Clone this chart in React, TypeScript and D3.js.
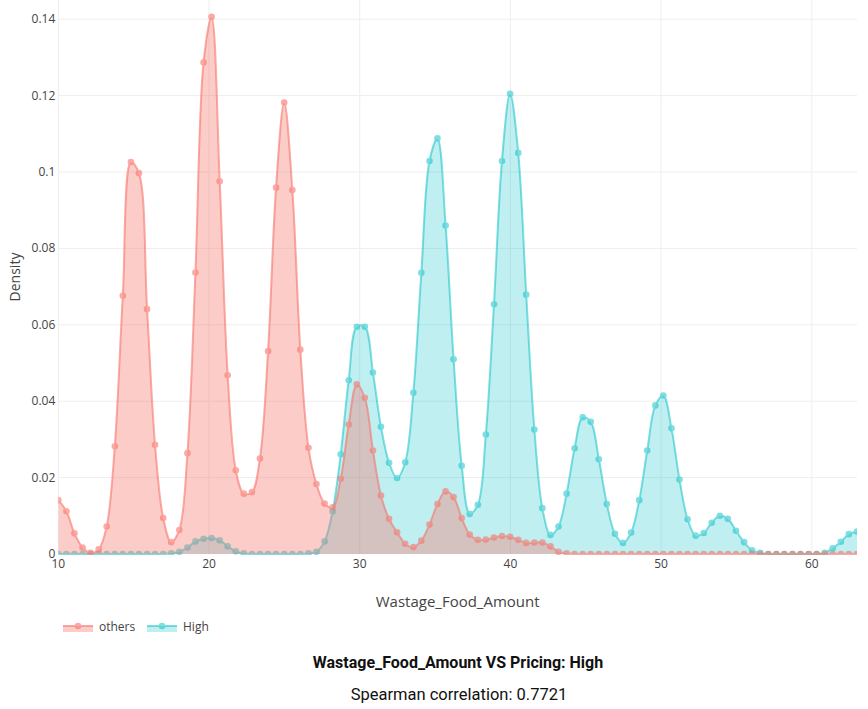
import React from "react";
import * as d3 from "d3";

// evaluation grid of the density estimate (x values of every point)
const gridX = [
  10.0, 10.54, 11.07, 11.61, 12.14, 12.68, 13.21, 13.75, 14.28, 14.82,
  15.35, 15.89, 16.42, 16.96, 17.49, 18.03, 18.57, 19.1, 19.64, 20.17,
  20.71, 21.24, 21.78, 22.31, 22.85, 23.38, 23.92, 24.45, 24.99, 25.53,
  26.06, 26.6, 27.13, 27.67, 28.2, 28.74, 29.27, 29.81, 30.34, 30.88,
  31.41, 31.95, 32.48, 33.02, 33.56, 34.09, 34.63, 35.16, 35.7, 36.23,
  36.77, 37.3, 37.84, 38.37, 38.91, 39.44, 39.98, 40.52, 41.05, 41.59,
  42.12, 42.66, 43.19, 43.73, 44.26, 44.8, 45.33, 45.87, 46.4, 46.94,
  47.47, 48.01, 48.55, 49.08, 49.62, 50.15, 50.69, 51.22, 51.76, 52.29,
  52.83, 53.36, 53.9, 54.43, 54.97, 55.51, 56.04, 56.58, 57.11, 57.65,
  58.18, 58.72, 59.25, 59.79, 60.32, 60.86, 61.39, 61.93, 62.46, 63.0,
];

const othersDensity = [
  0.0141, 0.0112, 0.0054, 0.0017, 0.0003, 0.0012, 0.0072, 0.0282, 0.0676, 0.1026,
  0.0997, 0.0641, 0.0286, 0.0094, 0.0031, 0.0063, 0.0264, 0.0737, 0.1287, 0.1406,
  0.0976, 0.0468, 0.0219, 0.0158, 0.0162, 0.025, 0.0531, 0.0959, 0.1182, 0.0953,
  0.0535, 0.0278, 0.0183, 0.0132, 0.0122, 0.0197, 0.0339, 0.0444, 0.0409, 0.0271,
  0.0153, 0.0092, 0.0057, 0.0027, 0.0018, 0.0035, 0.0077, 0.0131, 0.0164, 0.0149,
  0.0094, 0.0051, 0.0037, 0.0038, 0.0043, 0.0047, 0.0045, 0.0037, 0.0029, 0.003,
  0.003, 0.002, 0.0006, 0.0002, 0, 0, 0, 0, 0, 0,
  0, 0, 0, 0, 0, 0, 0, 0, 0, 0,
  0, 0, 0, 0, 0, 0, 0, 0, 0, 0,
  0, 0, 0, 0, 0, 0, 0, 0, 0, 0,
];

const highDensity = [
  0, 0, 0, 0, 0, 0, 0, 0, 0, 0,
  0, 0, 0, 0, 0.0002, 0.0006, 0.0017, 0.0033, 0.004, 0.0042,
  0.0036, 0.002, 0.0007, 0.0002, 0, 0, 0, 0, 0, 0,
  0, 0.0002, 0.0006, 0.0033, 0.0111, 0.0261, 0.0455, 0.0595, 0.0595, 0.0475,
  0.0333, 0.0239, 0.0199, 0.024, 0.0422, 0.0736, 0.1029, 0.1088, 0.086, 0.051,
  0.0231, 0.0105, 0.0129, 0.0313, 0.0654, 0.1029, 0.1205, 0.105, 0.0679, 0.0326,
  0.012, 0.005, 0.0072, 0.0158, 0.0277, 0.0358, 0.0346, 0.0248, 0.0131, 0.0053,
  0.0029, 0.0056, 0.0141, 0.0271, 0.0389, 0.0415, 0.0329, 0.0195, 0.0091, 0.0048,
  0.0055, 0.0082, 0.01, 0.0092, 0.0061, 0.0031, 0.001, 0.0003, 0, 0,
  0, 0, 0, 0, 0, 0.0003, 0.0015, 0.0032, 0.0052, 0.0059,
];

const xTicks = [10, 20, 30, 40, 50, 60];
const yTicks = [0, 0.02, 0.04, 0.06, 0.08, 0.1, 0.12, 0.14];
const seriesNames = ["others", "High"];

const RED = "248,118,109";
const TEAL = "0,191,196";

const DensityChart: React.FC = () => {
  const svgRef = React.useRef<SVGSVGElement | null>(null);

  React.useEffect(() => {
    if (!svgRef.current) return;
    const svg = d3.select(svgRef.current);
    svg.selectAll("*").remove();

    const width = 868;
    const height = 709;
    const margin = { top: 0, left: 58.3, right: 11, bottom: 155 };
    const innerW = width - margin.left - margin.right;
    const innerH = height - margin.top - margin.bottom;

    const x = d3.scaleLinear().domain([10, 63]).range([0, innerW]);
    const y = d3.scaleLinear().domain([0, 0.14503]).range([innerH, 0]);

    svg.attr("width", width).attr("height", height);

    svg
      .append("defs")
      .append("clipPath")
      .attr("id", "plot-clip")
      .append("rect")
      .attr("width", innerW)
      .attr("height", innerH + 1);

    const g = svg
      .append("g")
      .attr("transform", `translate(${margin.left},${margin.top})`);

    // grid
    g.append("g")
      .selectAll("line")
      .data(xTicks)
      .join("line")
      .attr("x1", (d) => x(d))
      .attr("x2", (d) => x(d))
      .attr("y1", 0)
      .attr("y2", innerH)
      .attr("stroke", "#eee")
      .attr("stroke-width", 1);
    g.append("g")
      .selectAll("line")
      .data(yTicks.slice(1))
      .join("line")
      .attr("x1", 0)
      .attr("x2", innerW)
      .attr("y1", (d) => y(d))
      .attr("y2", (d) => y(d))
      .attr("stroke", "#eee")
      .attr("stroke-width", 1);

    const plot = g.append("g").attr("clip-path", "url(#plot-clip)");

    const curve = d3.curveCatmullRom.alpha(0.5);
    // High is drawn first, others sits on top of it
    const series = [
      { name: "High", values: highDensity, rgb: TEAL, lineA: 0.5, fillA: 0.25 },
      { name: "others", values: othersDensity, rgb: RED, lineA: 0.62, fillA: 0.37 },
    ];

    series.forEach((s) => {
      const pts: [number, number][] = gridX.map((xv, i) => [xv, s.values[i]]);
      const area = d3
        .area<[number, number]>()
        .x((d) => x(d[0]))
        .y0(y(0))
        .y1((d) => y(d[1]))
        .curve(curve);
      const line = d3
        .line<[number, number]>()
        .x((d) => x(d[0]))
        .y((d) => y(d[1]))
        .curve(curve);
      plot
        .append("path")
        .datum(pts)
        .attr("d", area)
        .attr("fill", `rgba(${s.rgb},${s.fillA})`);
      // line and markers share one opacity so they do not darken where they overlap
      const marks = plot.append("g").attr("opacity", s.lineA);
      marks
        .append("path")
        .datum(pts)
        .attr("d", line)
        .attr("fill", "none")
        .attr("stroke", `rgb(${s.rgb})`)
        .attr("stroke-width", 2);
      marks
        .append("g")
        .selectAll("circle")
        .data(pts)
        .join("circle")
        .attr("cx", (d) => x(d[0]))
        .attr("cy", (d) => y(d[1]))
        .attr("r", 3.3)
        .attr("fill", `rgb(${s.rgb})`);
    });

    const font = "'Open Sans', verdana, arial, sans-serif";

    // tick labels
    g.append("g")
      .selectAll("text")
      .data(xTicks)
      .join("text")
      .attr("x", (d) => x(d))
      .attr("y", innerH + 14)
      .attr("text-anchor", "middle")
      .attr("font-family", font)
      .attr("font-size", 12)
      .attr("fill", "#444")
      .text((d) => `${d}`);
    g.append("g")
      .selectAll("text")
      .data(yTicks)
      .join("text")
      .attr("x", -3)
      .attr("y", (d) => y(d) + (d === 0 ? 3.5 : 4))
      .attr("text-anchor", "end")
      .attr("font-family", font)
      .attr("font-size", 12)
      .attr("fill", "#444")
      .text((d) => (d === 0 ? "0" : d3.format("~g")(d)));

    // axis titles
    svg
      .append("text")
      .attr("x", margin.left + innerW / 2)
      .attr("y", 607)
      .attr("text-anchor", "middle")
      .attr("font-family", font)
      .attr("font-size", 15)
      .attr("fill", "#444")
      .text("Wastage_Food_Amount");
    svg
      .append("text")
      .attr("transform", `translate(20,${innerH / 2}) rotate(-90)`)
      .attr("text-anchor", "middle")
      .attr("font-family", font)
      .attr("font-size", 14)
      .attr("fill", "#444")
      .text("Density");

    // legend
    const legendX = [63, 147];
    const legendRgb = [RED, TEAL];
    const legendA = [0.62, 0.5];
    const legendFillA = [0.37, 0.25];
    const lg = svg.append("g").attr("transform", "translate(0,626)");
    seriesNames.forEach((name, i) => {
      const item = lg.append("g").attr("transform", `translate(${legendX[i]},0)`);
      item
        .append("rect")
        .attr("x", 0)
        .attr("y", 0)
        .attr("width", 30)
        .attr("height", 6)
        .attr("fill", `rgba(${legendRgb[i]},${legendFillA[i]})`);
      const sym = item.append("g").attr("opacity", legendA[i]);
      sym
        .append("line")
        .attr("x1", 0)
        .attr("x2", 30)
        .attr("y1", 0)
        .attr("y2", 0)
        .attr("stroke", `rgb(${legendRgb[i]})`)
        .attr("stroke-width", 2);
      sym
        .append("circle")
        .attr("cx", 15)
        .attr("cy", 0)
        .attr("r", 3.3)
        .attr("fill", `rgb(${legendRgb[i]})`);
      item
        .append("text")
        .attr("x", 36)
        .attr("y", 4.5)
        .attr("font-family", font)
        .attr("font-size", 12)
        .attr("fill", "#444")
        .text(name);
    });

    // titles below the chart
    svg
      .append("text")
      .attr("x", 458)
      .attr("y", 668)
      .attr("text-anchor", "middle")
      .attr("font-family", "Roboto, sans-serif")
      .attr("font-size", 16)
      .attr("font-weight", "bold")
      .attr("fill", "#111")
      .text("Wastage_Food_Amount VS Pricing: High");
    svg
      .append("text")
      .attr("x", 459)
      .attr("y", 700)
      .attr("text-anchor", "middle")
      .attr("font-family", "Roboto, sans-serif")
      .attr("font-size", 16.5)
      .attr("fill", "#111")
      .text("Spearman correlation: 0.7721");
  }, []);

  return <svg ref={svgRef}></svg>;
};

export default function App() {
  return (
    <div style={{ position: "absolute", left: 0, top: 0 }}>
      <DensityChart />
    </div>
  );
}
